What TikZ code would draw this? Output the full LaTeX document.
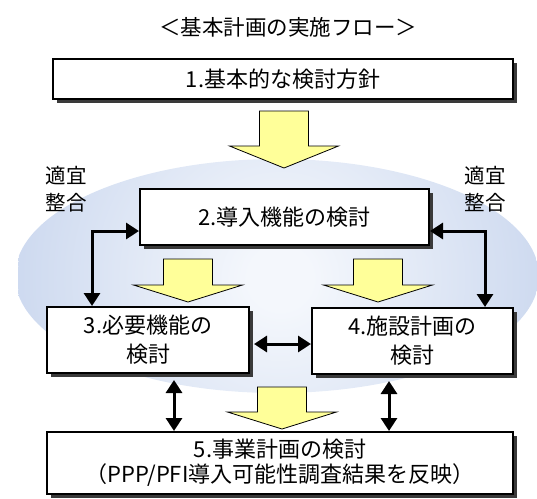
\documentclass[tikz,border=0pt]{standalone}
\usepackage{fontspec}
\setmainfont{Noto Sans CJK JP}
\usetikzlibrary{arrows.meta,shadows}
\definecolor{ellout}{HTML}{B0C3E6}
\definecolor{ellin}{HTML}{F4F7FC}
\definecolor{yel}{HTML}{FFFF99}
\definecolor{shd}{HTML}{3A3A3A}
\pgfdeclareradialshading{ellshade}{\pgfpoint{0bp}{0bp}}{color(0bp)=(ellin); color(3bp)=(ellin); color(42bp)=(ellout); color(70bp)=(ellout)}
\tikzset{
  flowbox/.style={draw=black, line width=2pt, fill=white, align=center, inner sep=0pt,
    font=\fontsize{22}{29}\selectfont,
    drop shadow={shadow xshift=3.5pt, shadow yshift=-3.5pt, fill=shd, opacity=1}},
  dbl/.style={line width=3pt, {Triangle[width=16pt,length=13pt]}-{Triangle[width=16pt,length=13pt]}},
  yarrow/.style={draw=black, line width=0.8pt, fill=yel, line join=miter},
  lbl/.style={font=\fontsize{20.5}{27}\selectfont, align=center, inner sep=0pt}
}
\newcommand{\yarr}[5]{% cx, top, base, tip, dummy
  \filldraw[yarrow] (#1-24.5,#2) -- (#1+24.5,#2) -- (#1+24.5,#3) -- (#1+54.5,#3) -- (#1,#4) -- (#1-54.5,#3) -- (#1-24.5,#3) -- cycle;}
\begin{document}
\begin{tikzpicture}[x=1pt,y=-1pt]
\useasboundingbox (0,0) rectangle (537,498);
% background ellipse with circular gradient
\begin{scope}
  \clip (277,276) ellipse [x radius=262, y radius=117];
  \shade[shading=ellshade] (280,278) circle (262);
\end{scope}
% title
\node[font=\fontsize{21.5}{25}\selectfont, inner sep=0pt] (title) at (288,27) {＜基本計画の実施フロー＞};
% boxes
\node[flowbox, minimum width=460pt, minimum height=40pt] (b1) at (283,79) {1.基本的な検討方針};
\node[flowbox, minimum width=289pt, minimum height=56pt] (b2) at (284.5,217) {2.導入機能の検討};
\node[flowbox, minimum width=202pt, minimum height=66pt] (b3) at (148,340) {3.必要機能の\\検討};
\node[flowbox, minimum width=201pt, minimum height=66pt] (b4) at (412.5,341) {4.施設計画の\\検討};
\node[flowbox, minimum width=466pt, minimum height=62pt, font=\fontsize{22}{25}\selectfont] (b5) at (280,463) {5.事業計画の検討\\（PPP/PFI導入可能性調査結果を反映）};
% labels
\node[lbl] (l1) at (66,189) {適宜\\整合};
\node[lbl] (l2) at (485,189) {適宜\\整合};
% yellow block arrows
\yarr{284}{111}{146}{168}{}
\yarr{188}{259}{285}{302}{}
\yarr{378}{259}{285}{302}{}
\yarr{282}{387}{412}{429}{}
% double arrows
\draw[dbl] (b2.west |- 0,231) -| (92,0 |- b3.north);
\draw[dbl] (b2.east |- 0,231) -| (485,0 |- b4.north);
\draw[dbl, shorten <=4pt] (b3.east |- 0,344) -- (b4.west |- 0,344);
\draw[dbl, shorten <=6pt] (174,0 |- b3.south) -- (174,0 |- b5.north);
\draw[dbl, shorten <=6pt] (389,0 |- b4.south) -- (389,0 |- b5.north);
\end{tikzpicture}
\end{document}
